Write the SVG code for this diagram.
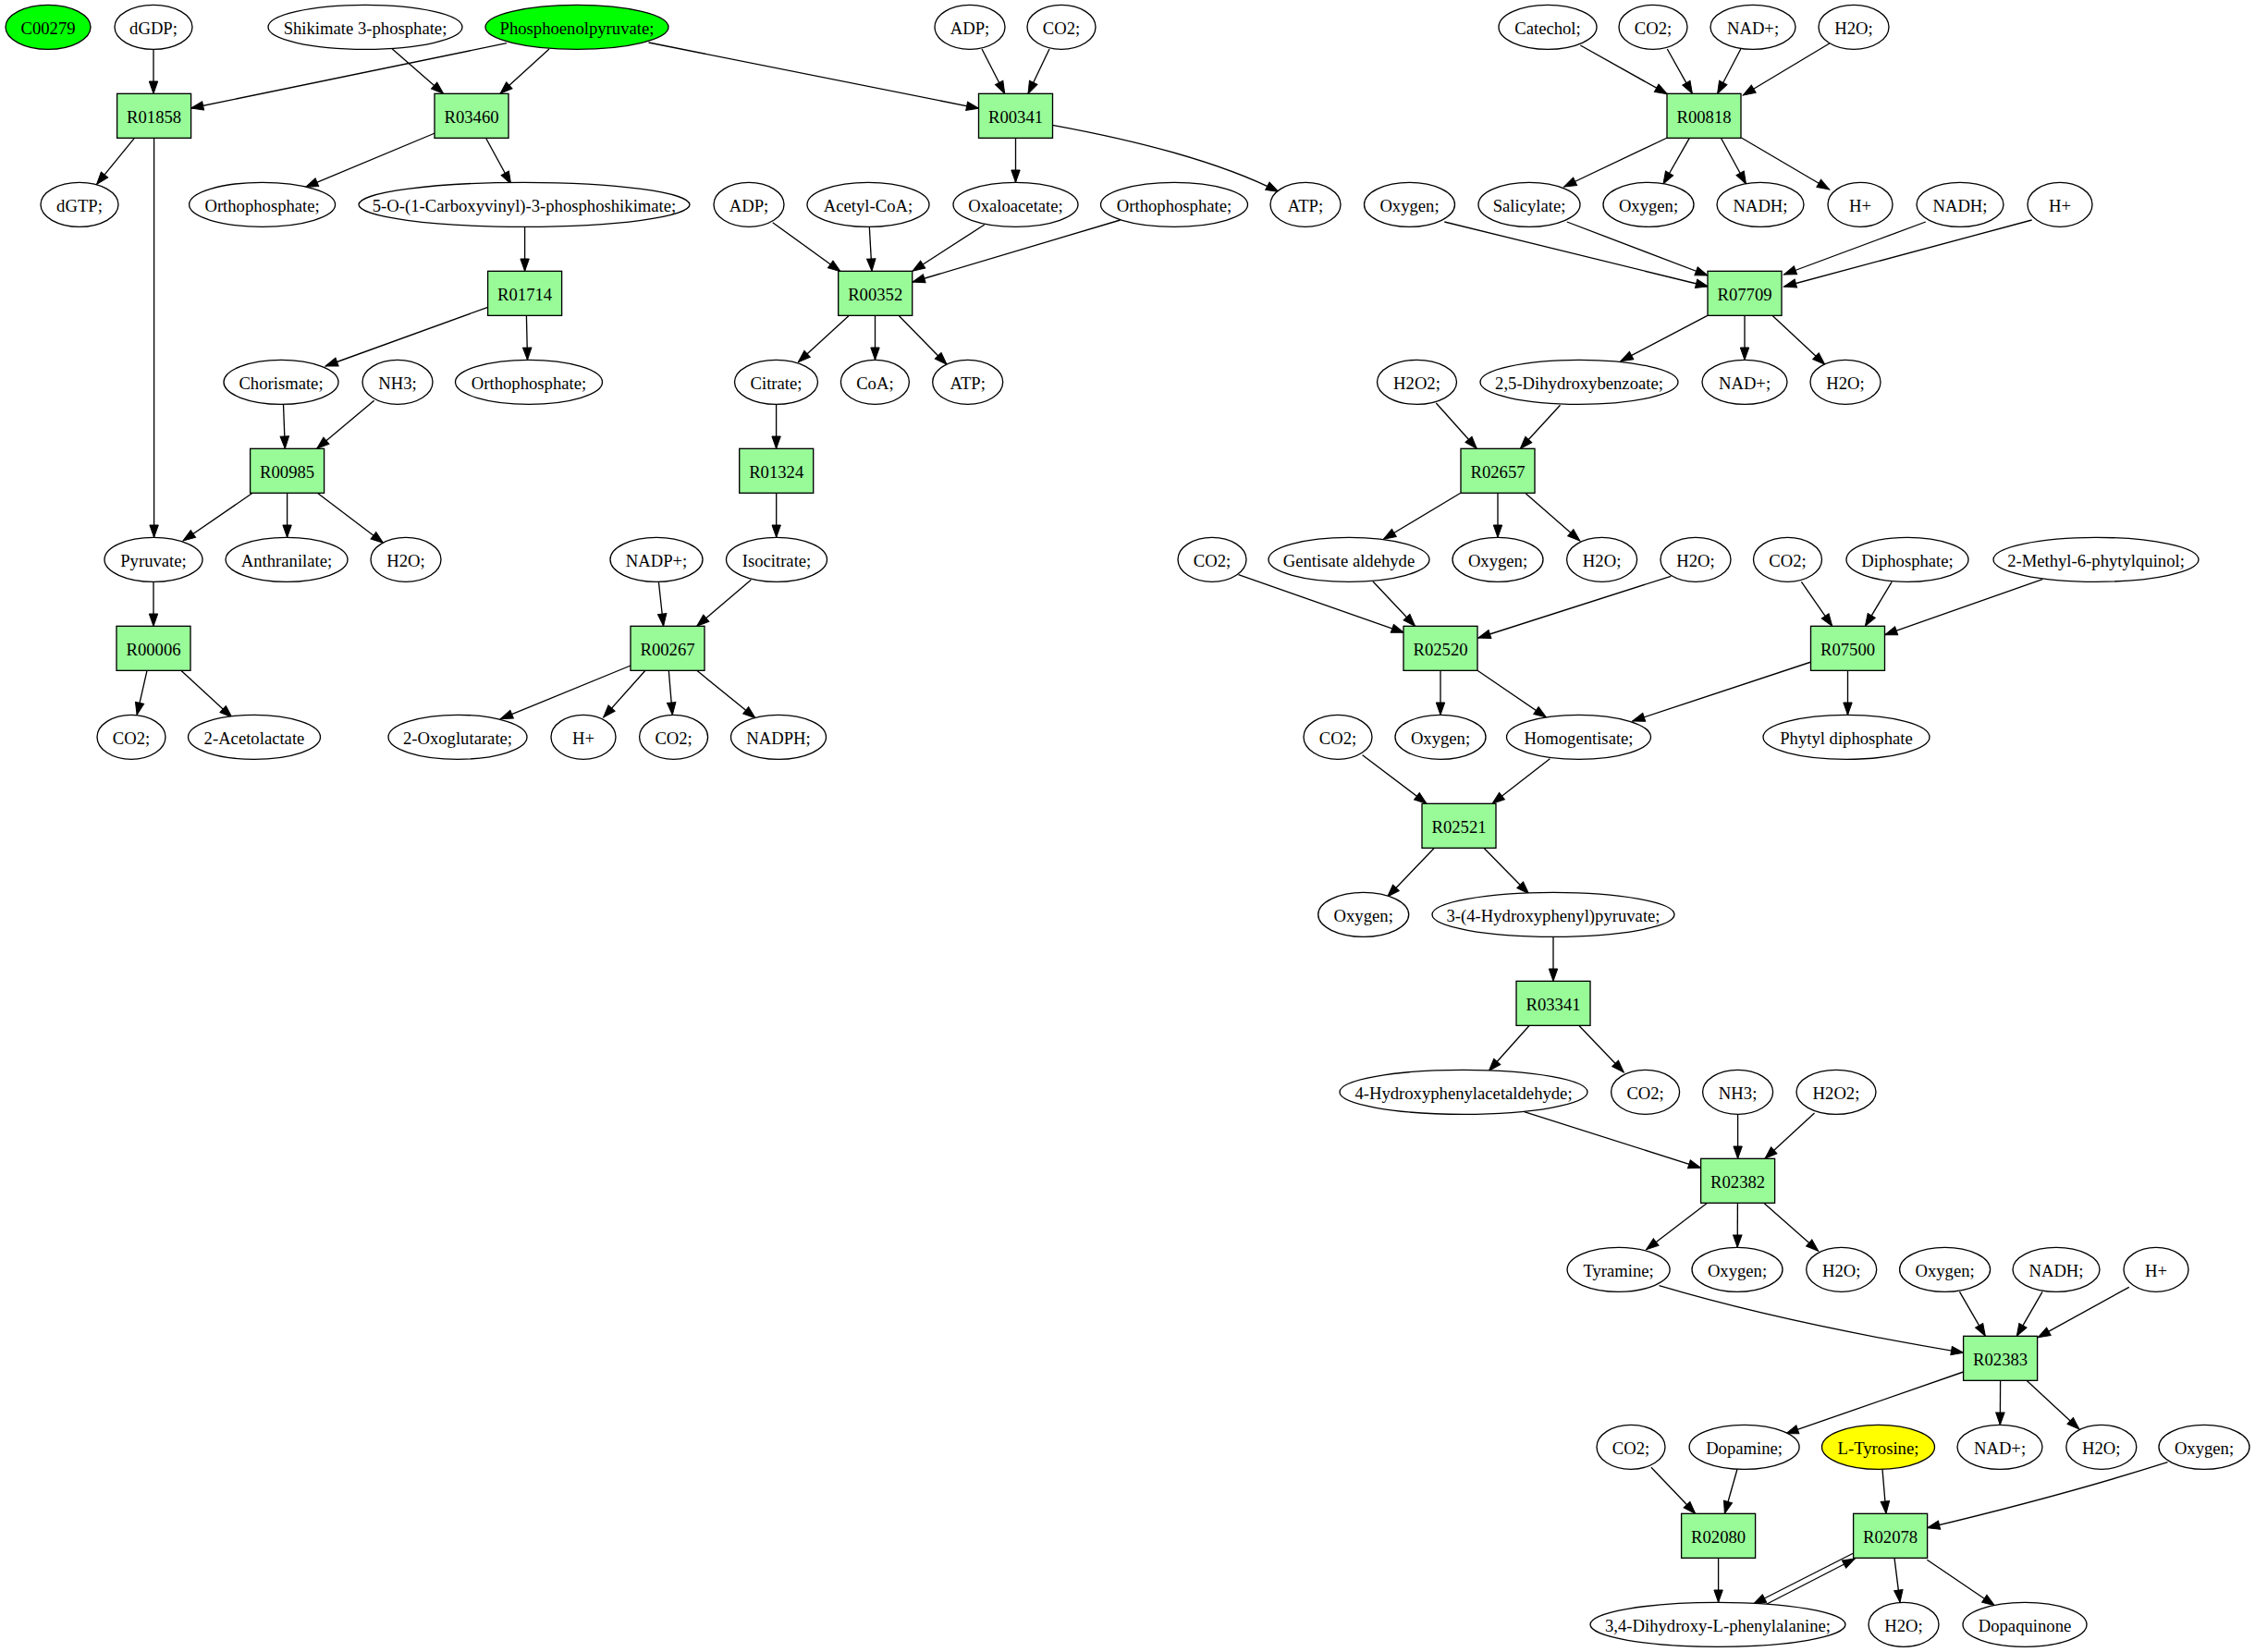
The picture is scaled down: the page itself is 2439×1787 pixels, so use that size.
<svg xmlns="http://www.w3.org/2000/svg" width="2439" height="1787" viewBox="0 0 2439 1787">
<style>
.e{fill:#ffffff;stroke:#000000;stroke-width:1.33}
.g{fill:#00ff00;stroke:#000000;stroke-width:1.33}
.y{fill:#ffff00;stroke:#000000;stroke-width:1.33}
.r{fill:#98fb98;stroke:#000000;stroke-width:1.33}
text{font-family:"Liberation Serif","Times New Roman",serif;font-size:18.67px;text-anchor:middle;fill:#000000}
#edges path{fill:none;stroke:#000000;stroke-width:1.33;marker-end:url(#a)}
</style>
<defs>
<marker id="a" markerUnits="userSpaceOnUse" markerWidth="14" markerHeight="10" refX="13.3" refY="4.7" orient="auto" overflow="visible">
<path d="M0,0 L13.3,4.7 L0,9.4 Z" fill="#000000" stroke="#000000" stroke-width="1"/>
</marker>
</defs>
<rect x="0" y="0" width="2439" height="1787" fill="#ffffff"/>
<g id="edges">
<path d="M166,53.3 L166,101.3"/>
<path d="M548,46.7 L206.6,117"/>
<path d="M423.5,52.3 L479.6,101.3"/>
<path d="M594,53 L541,101.3"/>
<path d="M701.5,46 L1058.7,117.3"/>
<path d="M1062,53 L1086.7,101.3"/>
<path d="M1135,53 L1112,101.3"/>
<path d="M145.4,149.3 L104.6,199.3"/>
<path d="M166.6,149.3 L166.6,581.3"/>
<path d="M470.4,144 L330.6,202.3"/>
<path d="M525.5,149.3 L552.6,199"/>
<path d="M1098.5,149.3 L1098.5,197.3"/>
<path d="M1138.3,135.3 Q1300,165 1382.7,207.3"/>
<path d="M1709.3,49 L1803.3,101.7"/>
<path d="M1803.3,53 L1830.4,101.3"/>
<path d="M1882.8,53 L1857.6,101.3"/>
<path d="M1978.7,47 L1885.3,103"/>
<path d="M1803.3,149 L1691.6,202"/>
<path d="M1827.3,149.3 L1799,199"/>
<path d="M1861.4,149.3 L1888.5,199"/>
<path d="M1883.4,149 L1978.7,205"/>
<path d="M567.6,245.3 L567.6,293.3"/>
<path d="M835.7,240.7 L909,293.7"/>
<path d="M940.3,245 L943,293.3"/>
<path d="M1064.8,243 L987,293.3"/>
<path d="M1211.7,238 L987,305"/>
<path d="M1562.3,240 L1847.5,310"/>
<path d="M1694.8,240 L1847,298"/>
<path d="M2082.8,240 L1929.5,297"/>
<path d="M2197.6,238 L1929.5,310"/>
<path d="M527.6,332.3 L352,396"/>
<path d="M569.4,341.3 L570.5,389.3"/>
<path d="M918.4,341.3 L863.3,391.7"/>
<path d="M946.5,341.3 L946.5,389.3"/>
<path d="M972,341.3 L1024,394.3"/>
<path d="M1846.8,341.3 L1752.8,390.7"/>
<path d="M1887,341.3 L1887,389.3"/>
<path d="M1916.9,341.3 L1973.7,394.3"/>
<path d="M306.5,437.3 L308.3,485.3"/>
<path d="M404.7,433.3 L342.7,485.3"/>
<path d="M839.6,437.3 L839.6,485.3"/>
<path d="M1553.3,436 L1597.3,485.3"/>
<path d="M1687.5,438.3 L1644.3,485.3"/>
<path d="M273.2,533.3 L198,585"/>
<path d="M310.6,533.3 L310.6,581.3"/>
<path d="M343.3,533.3 L414.5,587.3"/>
<path d="M839.7,533.3 L839.7,581.3"/>
<path d="M1579.8,533.3 L1496.4,583.3"/>
<path d="M1620,533.3 L1620,581.3"/>
<path d="M1649.6,533.3 L1708.8,585"/>
<path d="M166,629.3 L166,677.3"/>
<path d="M712.4,629.3 L717.6,677.3"/>
<path d="M812.3,627.3 L753.7,677.3"/>
<path d="M1339.5,621.7 L1518.4,684.3"/>
<path d="M1485,629 L1530.6,677.3"/>
<path d="M1807.3,623.3 L1598.8,690"/>
<path d="M1948.4,629.3 L1981.7,677.3"/>
<path d="M2046.2,629.3 L2017.4,677.3"/>
<path d="M2209.2,626.7 L2038.6,686.7"/>
<path d="M159,725.3 L148.1,773.3"/>
<path d="M195.8,725.3 L250.9,776"/>
<path d="M682,720 L541.3,777.7"/>
<path d="M698,725.3 L652.7,776"/>
<path d="M723.3,725.3 L727.3,773.3"/>
<path d="M753.7,725.3 L817,776.7"/>
<path d="M1558,725.3 L1558,773.3"/>
<path d="M1598,725.3 L1672.4,776"/>
<path d="M1959,716 L1765.6,780"/>
<path d="M1998.5,725.3 L1998.5,773.3"/>
<path d="M1473.6,816.7 L1543,869.3"/>
<path d="M1676.4,820.7 L1614,869.3"/>
<path d="M1551.4,917.3 L1500.7,970"/>
<path d="M1604.9,917.3 L1653.5,966.7"/>
<path d="M1680,1013.3 L1680,1061.3"/>
<path d="M1654.2,1109.3 L1610.4,1158.3"/>
<path d="M1707.7,1109.3 L1756.3,1160"/>
<path d="M1648.6,1202.7 L1839.6,1263.3"/>
<path d="M1879.6,1205.3 L1879.6,1253.3"/>
<path d="M1962.5,1204 L1909,1253.3"/>
<path d="M1846.6,1301.3 L1780.6,1351.7"/>
<path d="M1879.4,1301.3 L1879.2,1349.3"/>
<path d="M1907.7,1301.3 L1966.7,1353.3"/>
<path d="M1794.5,1390.7 Q1930,1431 2123.7,1463.3"/>
<path d="M2119.5,1397.3 L2147.3,1445.3"/>
<path d="M2209,1397.3 L2181.3,1445.3"/>
<path d="M2302.8,1392.3 L2204.2,1446.7"/>
<path d="M2123.6,1484 L1931.8,1550.7"/>
<path d="M2163.6,1493.3 L2163.3,1541.3"/>
<path d="M2192,1493.3 L2248.9,1546"/>
<path d="M1785.9,1587.3 L1833.7,1637.3"/>
<path d="M1879,1589.3 L1865.4,1637.3"/>
<path d="M2036,1589.3 L2040,1637.3"/>
<path d="M2344.5,1581.7 Q2230,1618 2084.6,1652.7"/>
<path d="M1858.6,1685.3 L1858.6,1733.3"/>
<path d="M2004.8,1680 L1896.6,1735"/>
<path d="M1909.2,1736 L2006.3,1686"/>
<path d="M2049,1685.3 L2055,1733.3"/>
<path d="M2084.3,1687.3 L2157.3,1736.7"/>
</g>
<g id="n_C00279"><ellipse class="g" cx="52" cy="29.33" rx="46" ry="24"/><text x="52" y="36.5">C00279</text></g>
<g id="n_dGDP"><ellipse class="e" cx="166" cy="29.33" rx="42" ry="24"/><text x="166" y="36.5">dGDP;</text></g>
<g id="n_shik3p"><ellipse class="e" cx="395" cy="29.33" rx="105" ry="24"/><text x="395" y="36.5">Shikimate 3-phosphate;</text></g>
<g id="n_pep"><ellipse class="g" cx="624" cy="29.33" rx="99" ry="24"/><text x="624" y="36.5">Phosphoenolpyruvate;</text></g>
<g id="n_adp_1"><ellipse class="e" cx="1049" cy="29.33" rx="38" ry="24"/><text x="1049" y="36.5">ADP;</text></g>
<g id="n_co2_1"><ellipse class="e" cx="1148" cy="29.33" rx="37" ry="24"/><text x="1148" y="36.5">CO2;</text></g>
<g id="n_catechol"><ellipse class="e" cx="1674" cy="29.33" rx="53" ry="24"/><text x="1674" y="36.5">Catechol;</text></g>
<g id="n_co2_2"><ellipse class="e" cx="1788" cy="29.33" rx="37" ry="24"/><text x="1788" y="36.5">CO2;</text></g>
<g id="n_nad_1"><ellipse class="e" cx="1896" cy="29.33" rx="46" ry="24"/><text x="1896" y="36.5">NAD+;</text></g>
<g id="n_h2o_1"><ellipse class="e" cx="2005" cy="29.33" rx="38" ry="24"/><text x="2005" y="36.5">H2O;</text></g>

<g id="n_R01858"><rect class="r" x="126.6" y="101.33" width="80" height="48"/><text x="166.6" y="132.5">R01858</text></g>
<g id="n_R03460"><rect class="r" x="470" y="101.33" width="80" height="48"/><text x="510" y="132.5">R03460</text></g>
<g id="n_R00341"><rect class="r" x="1058.5" y="101.33" width="80" height="48"/><text x="1098.5" y="132.5">R00341</text></g>
<g id="n_R00818"><rect class="r" x="1803" y="101.33" width="80" height="48"/><text x="1843" y="132.5">R00818</text></g>

<g id="n_dgtp"><ellipse class="e" cx="86" cy="221.33" rx="42" ry="24"/><text x="86" y="228.5">dGTP;</text></g>
<g id="n_ortho_1"><ellipse class="e" cx="283.6" cy="221.33" rx="79" ry="24"/><text x="283.6" y="228.5">Orthophosphate;</text></g>
<g id="n_cvps"><ellipse class="e" cx="567" cy="221.33" rx="179" ry="24"/><text x="567" y="228.5">5-O-(1-Carboxyvinyl)-3-phosphoshikimate;</text></g>
<g id="n_adp_2"><ellipse class="e" cx="810" cy="221.33" rx="38" ry="24"/><text x="810" y="228.5">ADP;</text></g>
<g id="n_acetylcoa"><ellipse class="e" cx="939" cy="221.33" rx="66" ry="24"/><text x="939" y="228.5">Acetyl-CoA;</text></g>
<g id="n_oxaloacetate"><ellipse class="e" cx="1098.5" cy="221.33" rx="67.5" ry="24"/><text x="1098.5" y="228.5">Oxaloacetate;</text></g>
<g id="n_ortho_2"><ellipse class="e" cx="1270" cy="221.33" rx="79.5" ry="24"/><text x="1270" y="228.5">Orthophosphate;</text></g>
<g id="n_atp_1"><ellipse class="e" cx="1412" cy="221.33" rx="38" ry="24"/><text x="1412" y="228.5">ATP;</text></g>
<g id="n_oxy_1"><ellipse class="e" cx="1524.5" cy="221.33" rx="49" ry="24"/><text x="1524.5" y="228.5">Oxygen;</text></g>
<g id="n_salicylate"><ellipse class="e" cx="1654" cy="221.33" rx="55" ry="24"/><text x="1654" y="228.5">Salicylate;</text></g>
<g id="n_oxy_2"><ellipse class="e" cx="1783" cy="221.33" rx="49" ry="24"/><text x="1783" y="228.5">Oxygen;</text></g>
<g id="n_nadh_1"><ellipse class="e" cx="1904" cy="221.33" rx="47" ry="24"/><text x="1904" y="228.5">NADH;</text></g>
<g id="n_h_1"><ellipse class="e" cx="2012" cy="221.33" rx="35" ry="24"/><text x="2012" y="228.5">H+</text></g>
<g id="n_nadh_2"><ellipse class="e" cx="2120" cy="221.33" rx="47" ry="24"/><text x="2120" y="228.5">NADH;</text></g>
<g id="n_h_2"><ellipse class="e" cx="2228" cy="221.33" rx="35" ry="24"/><text x="2228" y="228.5">H+</text></g>

<g id="n_R01714"><rect class="r" x="527.6" y="293.33" width="80" height="48"/><text x="567.6" y="324.5">R01714</text></g>
<g id="n_R00352"><rect class="r" x="906.7" y="293.33" width="80" height="48"/><text x="946.7" y="324.5">R00352</text></g>
<g id="n_R07709"><rect class="r" x="1847" y="293.33" width="80" height="48"/><text x="1887" y="324.5">R07709</text></g>

<g id="n_chorismate"><ellipse class="e" cx="304" cy="413.33" rx="62" ry="24"/><text x="304" y="420.5">Chorismate;</text></g>
<g id="n_nh3_1"><ellipse class="e" cx="430" cy="413.33" rx="38" ry="24"/><text x="430" y="420.5">NH3;</text></g>
<g id="n_ortho_3"><ellipse class="e" cx="572" cy="413.33" rx="79.5" ry="24"/><text x="572" y="420.5">Orthophosphate;</text></g>
<g id="n_citrate"><ellipse class="e" cx="839.5" cy="413.33" rx="45" ry="24"/><text x="839.5" y="420.5">Citrate;</text></g>
<g id="n_coa"><ellipse class="e" cx="946.4" cy="413.33" rx="37" ry="24"/><text x="946.4" y="420.5">CoA;</text></g>
<g id="n_atp_2"><ellipse class="e" cx="1046.7" cy="413.33" rx="38" ry="24"/><text x="1046.7" y="420.5">ATP;</text></g>
<g id="n_h2o2_1"><ellipse class="e" cx="1532.5" cy="413.33" rx="43" ry="24"/><text x="1532.5" y="420.5">H2O2;</text></g>
<g id="n_dhb"><ellipse class="e" cx="1708" cy="413.33" rx="107" ry="24"/><text x="1708" y="420.5">2,5-Dihydroxybenzoate;</text></g>
<g id="n_nad_2"><ellipse class="e" cx="1887" cy="413.33" rx="46" ry="24"/><text x="1887" y="420.5">NAD+;</text></g>
<g id="n_h2o_2"><ellipse class="e" cx="1996" cy="413.33" rx="38" ry="24"/><text x="1996" y="420.5">H2O;</text></g>

<g id="n_R00985"><rect class="r" x="270.6" y="485.33" width="80" height="48"/><text x="310.6" y="516.5">R00985</text></g>
<g id="n_R01324"><rect class="r" x="799.7" y="485.33" width="80" height="48"/><text x="839.7" y="516.5">R01324</text></g>
<g id="n_R02657"><rect class="r" x="1580" y="485.33" width="80" height="48"/><text x="1620" y="516.5">R02657</text></g>

<g id="n_pyruvate"><ellipse class="e" cx="166" cy="605.33" rx="53" ry="24"/><text x="166" y="612.5">Pyruvate;</text></g>
<g id="n_anthranilate"><ellipse class="e" cx="310" cy="605.33" rx="66" ry="24"/><text x="310" y="612.5">Anthranilate;</text></g>
<g id="n_h2o_3"><ellipse class="e" cx="439" cy="605.33" rx="38" ry="24"/><text x="439" y="612.5">H2O;</text></g>
<g id="n_nadp"><ellipse class="e" cx="710" cy="605.33" rx="50" ry="24"/><text x="710" y="612.5">NADP+;</text></g>
<g id="n_isocitrate"><ellipse class="e" cx="840" cy="605.33" rx="54.5" ry="24"/><text x="840" y="612.5">Isocitrate;</text></g>
<g id="n_co2_3"><ellipse class="e" cx="1311" cy="605.33" rx="37" ry="24"/><text x="1311" y="612.5">CO2;</text></g>
<g id="n_gentald"><ellipse class="e" cx="1459" cy="605.33" rx="87" ry="24"/><text x="1459" y="612.5">Gentisate aldehyde</text></g>
<g id="n_oxy_3"><ellipse class="e" cx="1620" cy="605.33" rx="49" ry="24"/><text x="1620" y="612.5">Oxygen;</text></g>
<g id="n_h2o_4"><ellipse class="e" cx="1732.6" cy="605.33" rx="38" ry="24"/><text x="1732.6" y="612.5">H2O;</text></g>
<g id="n_h2o_5"><ellipse class="e" cx="1834" cy="605.33" rx="38" ry="24"/><text x="1834" y="612.5">H2O;</text></g>
<g id="n_co2_4"><ellipse class="e" cx="1933.5" cy="605.33" rx="37" ry="24"/><text x="1933.5" y="612.5">CO2;</text></g>
<g id="n_diphosphate"><ellipse class="e" cx="2063" cy="605.33" rx="66" ry="24"/><text x="2063" y="612.5">Diphosphate;</text></g>
<g id="n_mpq"><ellipse class="e" cx="2267" cy="605.33" rx="111" ry="24"/><text x="2267" y="612.5">2-Methyl-6-phytylquinol;</text></g>

<g id="n_R00006"><rect class="r" x="126" y="677.33" width="80" height="48"/><text x="166" y="708.5">R00006</text></g>
<g id="n_R00267"><rect class="r" x="682" y="677.33" width="80" height="48"/><text x="722" y="708.5">R00267</text></g>
<g id="n_R02520"><rect class="r" x="1518" y="677.33" width="80" height="48"/><text x="1558" y="708.5">R02520</text></g>
<g id="n_R07500"><rect class="r" x="1958.5" y="677.33" width="80" height="48"/><text x="1998.5" y="708.5">R07500</text></g>

<g id="n_co2_5"><ellipse class="e" cx="142" cy="797.33" rx="37" ry="24"/><text x="142" y="804.5">CO2;</text></g>
<g id="n_acetolactate"><ellipse class="e" cx="275" cy="797.33" rx="71.5" ry="24"/><text x="275" y="804.5">2-Acetolactate</text></g>
<g id="n_oxoglutarate"><ellipse class="e" cx="495" cy="797.33" rx="75" ry="24"/><text x="495" y="804.5">2-Oxoglutarate;</text></g>
<g id="n_h_3"><ellipse class="e" cx="631" cy="797.33" rx="35" ry="24"/><text x="631" y="804.5">H+</text></g>
<g id="n_co2_6"><ellipse class="e" cx="728.6" cy="797.33" rx="37" ry="24"/><text x="728.6" y="804.5">CO2;</text></g>
<g id="n_nadph"><ellipse class="e" cx="842" cy="797.33" rx="51.5" ry="24"/><text x="842" y="804.5">NADPH;</text></g>
<g id="n_co2_7"><ellipse class="e" cx="1447" cy="797.33" rx="37" ry="24"/><text x="1447" y="804.5">CO2;</text></g>
<g id="n_oxy_4"><ellipse class="e" cx="1558" cy="797.33" rx="49" ry="24"/><text x="1558" y="804.5">Oxygen;</text></g>
<g id="n_homogentisate"><ellipse class="e" cx="1707.5" cy="797.33" rx="78" ry="24"/><text x="1707.5" y="804.5">Homogentisate;</text></g>
<g id="n_phytyldp"><ellipse class="e" cx="1997" cy="797.33" rx="90" ry="24"/><text x="1997" y="804.5">Phytyl diphosphate</text></g>

<g id="n_R02521"><rect class="r" x="1538" y="869.33" width="80" height="48"/><text x="1578" y="900.5">R02521</text></g>

<g id="n_oxy_5"><ellipse class="e" cx="1474.7" cy="989.33" rx="49" ry="24"/><text x="1474.7" y="996.5">Oxygen;</text></g>
<g id="n_hpp"><ellipse class="e" cx="1680" cy="989.33" rx="131" ry="24"/><text x="1680" y="996.5">3-(4-Hydroxyphenyl)pyruvate;</text></g>

<g id="n_R03341"><rect class="r" x="1640" y="1061.33" width="80" height="48"/><text x="1680" y="1092.5">R03341</text></g>

<g id="n_hpaa"><ellipse class="e" cx="1583" cy="1181.33" rx="134" ry="24"/><text x="1583" y="1188.5">4-Hydroxyphenylacetaldehyde;</text></g>
<g id="n_co2_8"><ellipse class="e" cx="1779.6" cy="1181.33" rx="37" ry="24"/><text x="1779.6" y="1188.5">CO2;</text></g>
<g id="n_nh3_2"><ellipse class="e" cx="1879.6" cy="1181.33" rx="38" ry="24"/><text x="1879.6" y="1188.5">NH3;</text></g>
<g id="n_h2o2_2"><ellipse class="e" cx="1986" cy="1181.33" rx="43" ry="24"/><text x="1986" y="1188.5">H2O2;</text></g>

<g id="n_R02382"><rect class="r" x="1839.6" y="1253.33" width="80" height="48"/><text x="1879.6" y="1284.5">R02382</text></g>

<g id="n_tyramine"><ellipse class="e" cx="1750.6" cy="1373.33" rx="55.5" ry="24"/><text x="1750.6" y="1380.5">Tyramine;</text></g>
<g id="n_oxy_6"><ellipse class="e" cx="1879" cy="1373.33" rx="49" ry="24"/><text x="1879" y="1380.5">Oxygen;</text></g>
<g id="n_h2o_6"><ellipse class="e" cx="1991.7" cy="1373.33" rx="38" ry="24"/><text x="1991.7" y="1380.5">H2O;</text></g>
<g id="n_oxy_7"><ellipse class="e" cx="2103.6" cy="1373.33" rx="49" ry="24"/><text x="2103.6" y="1380.5">Oxygen;</text></g>
<g id="n_nadh_3"><ellipse class="e" cx="2224" cy="1373.33" rx="47" ry="24"/><text x="2224" y="1380.5">NADH;</text></g>
<g id="n_h_4"><ellipse class="e" cx="2332" cy="1373.33" rx="35" ry="24"/><text x="2332" y="1380.5">H+</text></g>

<g id="n_R02383"><rect class="r" x="2123.6" y="1445.33" width="80" height="48"/><text x="2163.6" y="1476.5">R02383</text></g>

<g id="n_co2_9"><ellipse class="e" cx="1764" cy="1565.33" rx="37" ry="24"/><text x="1764" y="1572.5">CO2;</text></g>
<g id="n_dopamine"><ellipse class="e" cx="1886.6" cy="1565.33" rx="59.5" ry="24"/><text x="1886.6" y="1572.5">Dopamine;</text></g>
<g id="n_ltyrosine"><ellipse class="y" cx="2031.5" cy="1565.33" rx="61" ry="24"/><text x="2031.5" y="1572.5">L-Tyrosine;</text></g>
<g id="n_nad_3"><ellipse class="e" cx="2163" cy="1565.33" rx="46" ry="24"/><text x="2163" y="1572.5">NAD+;</text></g>
<g id="n_h2o_7"><ellipse class="e" cx="2272.8" cy="1565.33" rx="38" ry="24"/><text x="2272.8" y="1572.5">H2O;</text></g>
<g id="n_oxy_8"><ellipse class="e" cx="2384" cy="1565.33" rx="49" ry="24"/><text x="2384" y="1572.5">Oxygen;</text></g>

<g id="n_R02080"><rect class="r" x="1818.6" y="1637.33" width="80" height="48"/><text x="1858.6" y="1668.5">R02080</text></g>
<g id="n_R02078"><rect class="r" x="2004.6" y="1637.33" width="80" height="48"/><text x="2044.6" y="1668.5">R02078</text></g>

<g id="n_dopa"><ellipse class="e" cx="1858" cy="1757.33" rx="138" ry="24"/><text x="1858" y="1764.5">3,4-Dihydroxy-L-phenylalanine;</text></g>
<g id="n_h2o_8"><ellipse class="e" cx="2059" cy="1757.33" rx="38" ry="24"/><text x="2059" y="1764.5">H2O;</text></g>
<g id="n_dopaquinone"><ellipse class="e" cx="2190" cy="1757.33" rx="67" ry="24"/><text x="2190" y="1764.5">Dopaquinone</text></g>
</svg>
